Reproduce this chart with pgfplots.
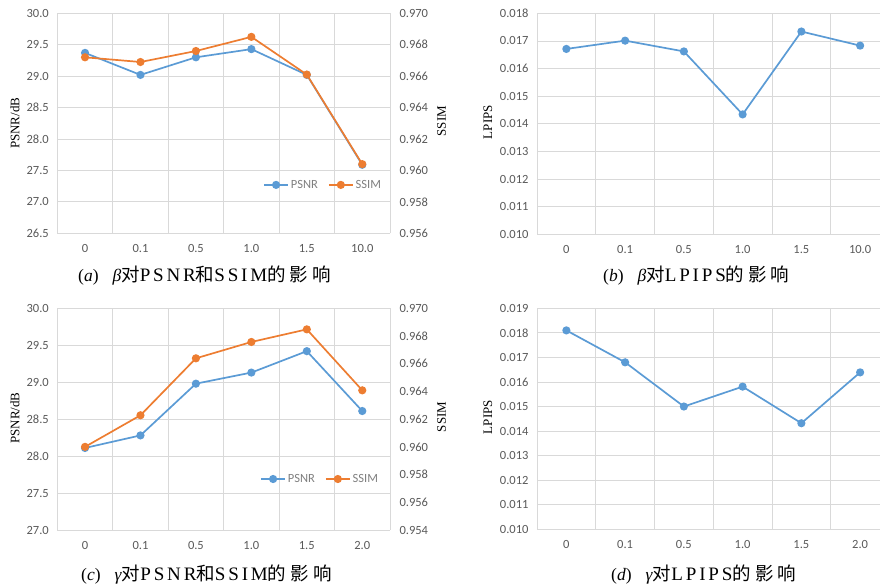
\documentclass[border=0pt]{standalone}
\usepackage{fontspec}
\usepackage{pgfplots}
\pgfplotsset{compat=1.18}
\setmainfont{Liberation Serif}
\newfontfamily\carlito{Carlito}
\newfontfamily\cjkfont[LetterSpace=22]{Noto Sans CJK SC}
\newfontfamily\lsfont[LetterSpace=15]{Liberation Serif}
\newcommand{\cj}[1]{{\fontsize{18.5bp}{20bp}\selectfont\cjkfont #1}}
\newcommand{\ls}[1]{{\fontsize{19bp}{20bp}\selectfont\lsfont #1}}
\definecolor{xblue}{HTML}{5B9BD5}
\definecolor{xorange}{HTML}{ED7D31}
\definecolor{gridc}{HTML}{D9D9D9}
\definecolor{tickc}{HTML}{595959}
\definecolor{legc}{HTML}{7F7F7F}
\tikzset{capnode/.style={anchor=west, inner sep=0pt, font=\fontsize{17.5bp}{20bp}\selectfont}}
\pgfplotsset{
  base/.style={
    scale only axis, anchor=south west,
    xmin=-0.5, xmax=5.5,
    xtick={0,1,2,3,4,5},
    minor xtick={-0.5,0.5,1.5,2.5,3.5,4.5,5.5},
    major tick length=0pt, minor tick length=0pt,
    xminorgrids=true, ymajorgrids=true,
    grid style={gridc, line width=0.8bp},
    minor grid style={gridc, line width=0.8bp},
    axis line style={draw=none},
    tick label style={font=\carlito\fontsize{12.5bp}{14bp}\selectfont, text=tickc},
    /pgf/number format/assume math mode=true,
    scaled y ticks=false,
    xticklabel style={yshift=-8bp},
    label style={font=\fontsize{13bp}{15bp}\selectfont},
    clip=false,
  },
  right/.style={
    scale only axis, anchor=south west,
    xmin=-0.5, xmax=5.5, hide x axis,
    major tick length=0pt, axis line style={draw=none},
    tick label style={font=\carlito\fontsize{12.5bp}{14bp}\selectfont, text=tickc},
    /pgf/number format/assume math mode=true,
    scaled y ticks=false,
    yticklabel pos=right,
    yticklabel style={xshift=6bp, /pgf/number format/fixed, /pgf/number format/fixed zerofill, /pgf/number format/precision=3},
    label style={font=\fontsize{13bp}{15bp}\selectfont},
    legend style={draw=none, fill=none, legend columns=2,
      font=\carlito\fontsize{12.5bp}{14bp}\selectfont, text=legc,
      /tikz/every even column/.append style={column sep=8bp}},
    legend image code/.code={\draw[mark repeat=2,mark phase=2] plot coordinates {(0bp,0bp) (12bp,0bp) (24bp,0bp)};},
    clip=false,
  },
  ser/.style={color=#1, line width=1.7bp, mark=*, mark size=3.2bp, mark options={fill=#1, draw=#1}},
  onedec/.style={yticklabel style={xshift=-5bp, /pgf/number format/fixed, /pgf/number format/fixed zerofill, /pgf/number format/precision=1}},
  threedec/.style={yticklabel style={xshift=-5bp, /pgf/number format/fixed, /pgf/number format/fixed zerofill, /pgf/number format/precision=3}},
}
\begin{document}
\begin{tikzpicture}
% ---------- (a) ----------
\begin{axis}[base, onedec, at={(57.3bp,350.7bp)}, width=332.7bp, height=220bp,
  ymin=26.5, ymax=30, ytick={26.5,27.0,27.5,28.0,28.5,29.0,29.5,30.0},
  xticklabels={0,0.1,0.5,1.0,1.5,10.0},
  ylabel={PSNR/dB}, ylabel style={at={(axis description cs:-0.127,0.5)}, anchor=center}]
\addplot[ser=xblue] coordinates {(0,29.37) (1,29.02) (2,29.30) (3,29.43) (4,29.02) (5,27.59)};
\end{axis}
\begin{axis}[right, at={(57.3bp,350.7bp)}, width=332.7bp, height=220bp,
  ymin=0.956, ymax=0.970, ytick={0.956,0.958,0.960,0.962,0.964,0.966,0.968,0.970},
  ylabel={SSIM}, ylabel style={at={(axis description cs:1.155,0.51)}, anchor=center},
  legend style={at={(axis description cs:0.799,0.22)}, anchor=center}]
\addlegendimage{ser=xblue}\addlegendentry{PSNR}
\addplot[ser=xorange] coordinates {(0,0.9672) (1,0.9669) (2,0.9676) (3,0.9685) (4,0.9661) (5,0.9604)};
\addlegendentry{SSIM}
\end{axis}
% ---------- (b) ----------
\begin{axis}[base, threedec, at={(537bp,349.7bp)}, width=352.5bp, height=221bp,
  ymin=0.010, ymax=0.018, ytick={0.010,0.011,0.012,0.013,0.014,0.015,0.016,0.017,0.018},
  xticklabels={0,0.1,0.5,1.0,1.5,10.0},
  ylabel={LPIPS}, ylabel style={at={(axis description cs:-0.139,0.508)}, anchor=center}]
\addplot[ser=xblue] coordinates {(0,0.01671) (1,0.01701) (2,0.01662) (3,0.01434) (4,0.01734) (5,0.01683)};
\end{axis}
% ---------- (c) ----------
\begin{axis}[base, onedec, at={(57.3bp,54bp)}, width=332.7bp, height=221.7bp,
  ymin=27, ymax=30, ytick={27.0,27.5,28.0,28.5,29.0,29.5,30.0},
  xticklabels={0,0.1,0.5,1.0,1.5,2.0},
  ylabel={PSNR/dB}, ylabel style={at={(axis description cs:-0.127,0.505)}, anchor=center}]
\addplot[ser=xblue] coordinates {(0,28.11) (1,28.28) (2,28.98) (3,29.13) (4,29.42) (5,28.61)};
\end{axis}
\begin{axis}[right, at={(57.3bp,54bp)}, width=332.7bp, height=221.7bp,
  ymin=0.954, ymax=0.970, ytick={0.954,0.956,0.958,0.960,0.962,0.964,0.966,0.968,0.970},
  ylabel={SSIM}, ylabel style={at={(axis description cs:1.155,0.51)}, anchor=center},
  legend style={at={(axis description cs:0.79,0.23)}, anchor=center}]
\addlegendimage{ser=xblue}\addlegendentry{PSNR}
\addplot[ser=xorange] coordinates {(0,0.9600) (1,0.96228) (2,0.96639) (3,0.96757) (4,0.96848) (5,0.96408)};
\addlegendentry{SSIM}
\end{axis}
% ---------- (d) ----------
\begin{axis}[base, threedec, at={(537bp,54.7bp)}, width=352.5bp, height=221bp,
  ymin=0.010, ymax=0.019, ytick={0.010,0.011,0.012,0.013,0.014,0.015,0.016,0.017,0.018,0.019},
  xticklabels={0,0.1,0.5,1.0,1.5,2.0},
  ylabel={LPIPS}, ylabel style={at={(axis description cs:-0.139,0.508)}, anchor=center}]
\addplot[ser=xblue] coordinates {(0,0.01810) (1,0.01680) (2,0.01500) (3,0.01581) (4,0.01432) (5,0.01639)};
\end{axis}
% ---------- captions ----------
\node[capnode] at (78bp,308bp) {(\textit{a})\hspace{14bp}\textit{β}\cj{对}\ls{PSNR}\cj{和}\ls{SSIM}\cj{的影响}};
\node[capnode] at (603bp,308bp) {(\textit{b})\hspace{14bp}\textit{β}\cj{对}\ls{LPIPS}\cj{的影响}};
\node[capnode] at (81bp,9bp) {(\textit{c})\hspace{14bp}\textit{γ}\cj{对}\ls{PSNR}\cj{和}\ls{SSIM}\cj{的影响}};
\node[capnode] at (611bp,9bp) {(\textit{d})\hspace{14bp}\textit{γ}\cj{对}\ls{LPIPS}\cj{的影响}};
\pgfresetboundingbox
\useasboundingbox (0,0) rectangle (880bp,584bp);
\end{tikzpicture}
\end{document}
